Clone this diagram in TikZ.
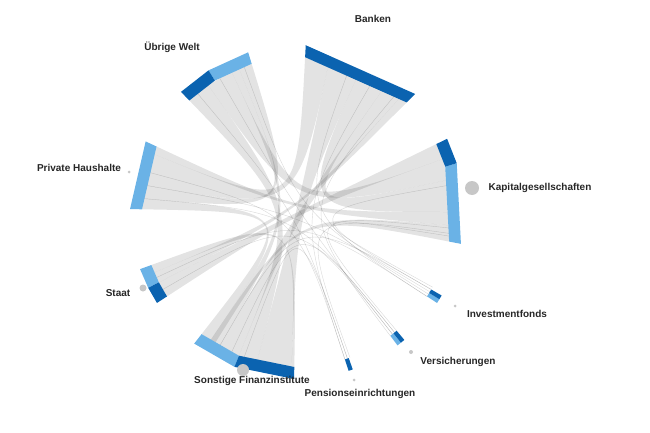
\documentclass[tikz,border=0pt]{standalone}
\usepackage{fontspec}
\setmainfont{Liberation Sans}
\begin{document}
\begin{tikzpicture}[x=1pt,y=1pt,
  lab/.style={font=\bfseries\fontsize{10}{12}\selectfont, text=black!85},
  dot/.style={fill=black!22, draw=none},
  rib/.style={fill=black, fill opacity=0.11}]
\definecolor{dk}{HTML}{0B63B0}
\definecolor{lt}{HTML}{6AB2E6}
\useasboundingbox (0,-433) rectangle (650,0);
\newcommand{\ribbon}[4]{%
  \fill[rib] (#1:155) -- (#2:155)
    .. controls (0,0) .. (#3:155) -- (#4:155)
    .. controls (0,0) .. cycle;}
\newcommand{\thread}[2]{\draw[black, opacity=0.15, line width=0.4pt] (#1:155) .. controls (0,0) .. (#2:155);}
\newcommand{\seg}[3]{\fill[#3] (#1:155) -- (#2:155) -- (#2:167) -- (#1:167) -- cycle;}
\begin{scope}[shift={(297,-212)}]
\ribbon{78}{87}{158}{170}
\ribbon{66}{78}{255}{268}
\ribbon{55}{66}{0}{12}
\ribbon{48}{55}{240}{248}
\ribbon{45}{48}{203}{207}
\ribbon{125}{134}{248}{255}
\ribbon{115}{125}{12}{20}
\ribbon{107}{112}{170}{175}
\ribbon{112}{115}{236}{240}
\ribbon{155}{158}{-5}{0}
\ribbon{175}{179}{232}{236}
\ribbon{207}{213}{20}{26}
\ribbon{236}{238}{-11}{-5}
\ribbon{200}{203}{268}{269}
\foreach \a/\b in {288/60,289/130,288/165,289/250,307/50,308/120,309/175,308/210,309/245,327/70,328/110,329/170,330/240,330/10,290/-8,310/-6,331/-9,327/205}{\thread{\a}{\b}}
\seg{45}{87}{dk}
\seg{107}{122}{lt}\seg{122}{134}{dk}
\seg{155}{179}{lt}
\seg{200}{207}{lt}\seg{207}{213}{dk}
\seg{232}{248}{lt}\seg{248}{269}{dk}
\seg{288}{289.5}{dk}
\seg{307}{308.5}{lt}\seg{308.5}{310}{dk}
\seg{327}{328.5}{lt}\seg{328.5}{330}{dk}
\seg{-11}{17}{lt}\seg{17}{26}{dk}
\end{scope}
\fill[dot] (472,-188) circle (7);
\fill[dot] (243,-370) circle (6);
\fill[dot] (143,-288) circle (3.5);
\fill[dot] (129,-172) circle (1.5);
\fill[dot] (455,-306) circle (1.5);
\fill[dot] (411,-352) circle (2);
\fill[dot] (354,-380) circle (1.5);
\node[lab] (banken) at (373,-19) {Banken};
\node[lab] (uw) at (172,-47) {Übrige Welt};
\node[lab] (ph) at (79,-168) {Private Haushalte};
\node[lab] (staat) at (118,-293) {Staat};
\node[lab] (sf) at (252,-381) {Sonstige Finanzinstitute};
\node[lab] (pe) at (360,-394) {Pensionseinrichtungen};
\node[lab] (vs) at (458,-362) {Versicherungen};
\node[lab] (inv) at (507,-314) {Investmentfonds};
\node[lab] (kap) at (540,-188) {Kapitalgesellschaften};
\end{tikzpicture}
\end{document}
